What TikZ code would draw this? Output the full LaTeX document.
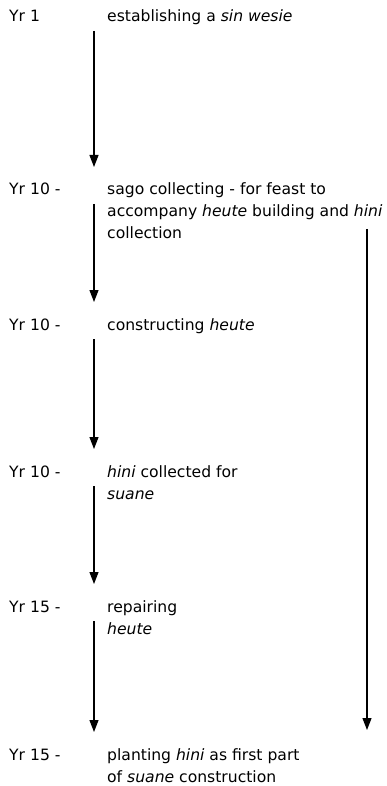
\documentclass[tikz,border=0pt]{standalone}
\usepackage{fontspec}
\setmainfont{DejaVu Sans}
\usetikzlibrary{arrows.meta}

\newcommand{\evlines}[1]{\begin{tabular}[t]{@{}l@{}}#1\end{tabular}}

\begin{document}
\begin{tikzpicture}[x=1pt, y=-1pt,
    every node/.style={anchor=base west, inner sep=0pt,
      font=\fontsize{15.6}{22}\selectfont},
    stage/.style={line width=1.2pt, -{Triangle[length=12pt, width=9pt]}}]
  \useasboundingbox (0,0) rectangle (387,786);

  \foreach \y/\yr/\ev [count=\i] in {
      22/{Yr 1}/{establishing a \textit{sin wesie}},
      195/{Yr 10 -}/{sago collecting - for feast to\\accompany \textit{heute} building and \textit{hini}\\collection},
      330/{Yr 10 -}/{constructing \textit{heute}},
      477/{Yr 10 -}/{\textit{hini} collected for\\\textit{suane}},
      612/{Yr 15 -}/{repairing\\\textit{heute}},
      760/{Yr 15 -}/{planting \textit{hini} as first part\\of \textit{suane} construction}}
  {
    \path (9, \y) node (yr\i) {\yr};
    \path (107, \y) node (ev\i) {\evlines{\ev}};
  }

  \foreach \i/\j in {1/2, 2/3, 3/4, 4/5, 5/6}
  {
    \draw [stage]
      ([shift={(-13pt, -9pt)}]ev\i.base west) --
      ([shift={(-13pt, 28pt)}]ev\j.base west);
  }

  % hini runs on to the planting
  \coordinate (hini) at (367, 229);
  \coordinate (plant) at ([yshift=30pt]ev6.base west);
  \draw [stage] (hini) -- (hini |- plant);
\end{tikzpicture}
\end{document}
